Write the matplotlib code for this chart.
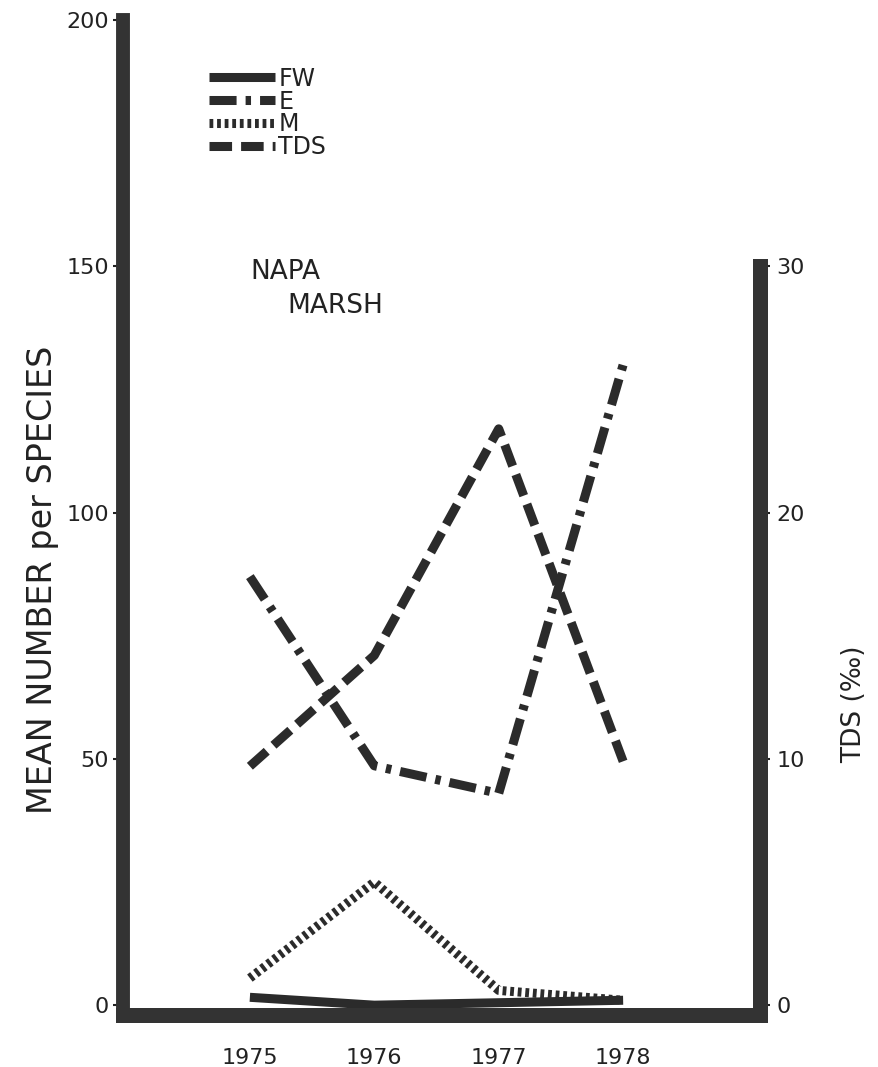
import matplotlib
matplotlib.use("Agg")
import matplotlib.pyplot as plt

plt.rcParams['font.family'] = ['DejaVu Sans']

years = [1975, 1976, 1977, 1978]
fw = [1.6, 0.0, 0.5, 1.0]
e = [87, 48.6, 43, 130]
m = [5.5, 25, 3, 1]
tds = [9.7, 14.2, 23.4, 9.9]

left_ticks = [0, 50, 100, 150, 200]
left_labels = ["0", "50", "100", "150", "200"]
right_ticks = [0, 10, 20, 30]
right_labels = ["0", "10", "20", "30"]

ink = "#2b2b2b"
spine_c = "#333333"
txt = "#222222"

fig = plt.figure(figsize=(8.79, 10.67), dpi=100)
ax = fig.add_axes([0.1399, 0.0487, 0.7247, 0.9326])
ax.set_xlim(1973.98, 1979.1)
ax.set_ylim(-2, 200)

lw = 6.5
l_fw, = ax.plot(years, fw, color=ink, lw=lw, solid_capstyle='butt', label='FW')
l_e, = ax.plot(years, e, color=ink, lw=lw, dashes=(3.0, 1.0, 0.6, 1.0), dash_capstyle='butt', label='E')
l_m, = ax.plot(years, m, color=ink, lw=lw, dashes=(0.42, 0.42), dash_capstyle='butt', label='M')

ax2 = ax.twinx()
ax2.set_ylim(-0.4, 40)
l_tds, = ax2.plot(years, tds, color=ink, lw=lw, dashes=(2.5, 1.0), dash_capstyle='butt', label='TDS')

for a in (ax, ax2):
    a.spines['top'].set_visible(False)
    for s in ('left', 'right', 'bottom'):
        a.spines[s].set_linewidth(10)
        a.spines[s].set_color(spine_c)
        a.spines[s].set_capstyle('projecting')

ax.spines['bottom'].set_linewidth(10.8)
ax.spines['right'].set_visible(False)
ax2.spines['left'].set_visible(False)
ax2.spines['bottom'].set_visible(False)
ax2.spines['right'].set_linewidth(10.8)
ax2.spines['right'].set_bounds(-0.4, 30)

ax.set_yticks(left_ticks)
ax.set_yticklabels(left_labels)
ax.set_xticks(years)
ax.set_xticklabels([str(y) for y in years])
ax.tick_params(axis='y', direction='out', length=7, width=1.5, pad=3, labelsize=16, colors=txt)
ax.tick_params(axis='x', length=0, pad=24, labelsize=16, colors=txt)
ax2.set_yticks(right_ticks)
ax2.set_yticklabels(right_labels)
ax2.tick_params(axis='y', direction='out', length=7, width=1.5, pad=5, labelsize=16, colors=txt)

ax.set_ylabel("MEAN NUMBER per SPECIES", fontsize=24, color=txt)
ax.yaxis.set_label_coords(-0.100, 0.437)
ax2.set_ylabel("TDS (‰)", fontsize=19, color=txt)
ax2.yaxis.set_label_coords(1.128, 0.312)

ax.text(1975.0, 148.8, "NAPA", fontsize=19, color=txt, ha='left', va='center')
ax.text(1975.3, 142.0, "MARSH", fontsize=19, color=txt, ha='left', va='center')

fig.legend(handles=[l_fw, l_e, l_m, l_tds], loc='upper left',
           bbox_to_anchor=(0.2246, 0.9485), frameon=False, fontsize=17,
           handlelength=2.8, labelspacing=-0.05, handletextpad=0.12, borderpad=0,
           labelcolor=txt)

fig.savefig("out.png", dpi=100, facecolor='white')
